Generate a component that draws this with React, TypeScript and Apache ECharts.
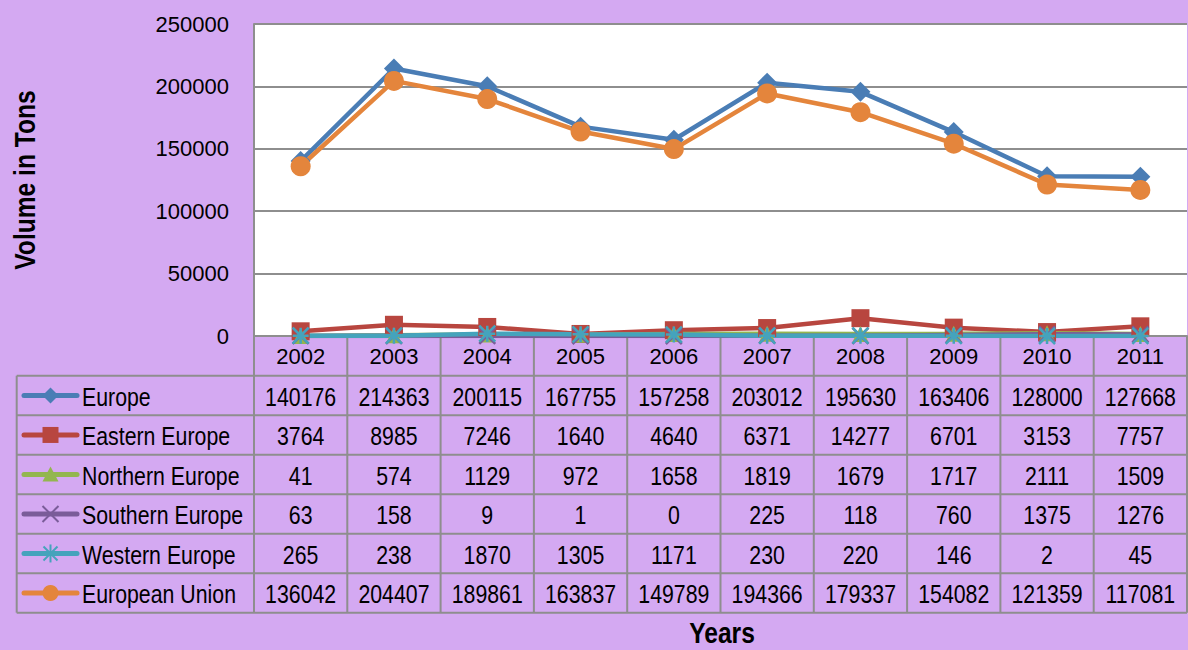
import React, { useEffect, useRef } from "react";
import * as echarts from "echarts";

const years = ["2002", "2003", "2004", "2005", "2006", "2007", "2008", "2009", "2010", "2011"];
const europe = [140176, 214363, 200115, 167755, 157258, 203012, 195630, 163406, 128000, 127668];
const easternEurope = [3764, 8985, 7246, 1640, 4640, 6371, 14277, 6701, 3153, 7757];
const northernEurope = [41, 574, 1129, 972, 1658, 1819, 1679, 1717, 2111, 1509];
const southernEurope = [63, 158, 9, 1, 0, 225, 118, 760, 1375, 1276];
const westernEurope = [265, 238, 1870, 1305, 1171, 230, 220, 146, 2, 45];
const europeanUnion = [136042, 204407, 189861, 163837, 149789, 194366, 179337, 154082, 121359, 117081];

const yMin = 0;
const yMax = 250000;
const yStep = 50000;

const W = 1188;
const H = 650;
const FONT = "'Liberation Sans', Arial, sans-serif";
const NARROW = 0.82;
const BG = "#D4A9F2";
const GRID_LINE = "#8E8E8E";

const plotLeft = 254;
const plotRight = 1187;
const plotTop = 24;
const plotBottom = 336;
const tableLeft = 16.7;
const tableTop = 375.7;
const rowH = 39.5;

const X_PATH = "path://M0,0L10,10M10,0L0,10";
const STAR_PATH = "path://M5,0L5,10M0,0L10,10M10,0L0,10M0,5L10,5";

const seriesDefs = [
  { name: "Europe", data: europe, color: "#4A7DB5", symbol: "diamond", size: 20, key: "diamond" },
  { name: "Eastern Europe", data: easternEurope, color: "#B8463F", symbol: "rect", size: 18, key: "rect" },
  { name: "Northern Europe", data: northernEurope, color: "#93B64F", symbol: "triangle", size: 16, key: "triangle" },
  { name: "Southern Europe", data: southernEurope, color: "#7A5C99", symbol: X_PATH, size: 16, key: "x" },
  { name: "Western Europe", data: westernEurope, color: "#45A3BC", symbol: STAR_PATH, size: 16, key: "star" },
  { name: "European Union", data: europeanUnion, color: "#E4853C", symbol: "circle", size: 20, key: "circle" },
];

function narrowText(text: string, x: number, y: number, align: string, size: number, bold = false, rotation = 0): any {
  return {
    type: "text",
    x,
    y,
    rotation,
    scaleX: NARROW,
    silent: true,
    style: {
      text,
      x: 0,
      y: 0,
      fill: "#000",
      fontSize: size,
      fontWeight: bold ? "bold" : "normal",
      fontFamily: FONT,
      align,
      verticalAlign: "middle",
    },
  };
}

function keyMarker(key: string, cx: number, cy: number, color: string): any[] {
  const s = { fill: color };
  const ls = { stroke: color, lineWidth: 2 };
  switch (key) {
    case "diamond":
      return [{ type: "polygon", shape: { points: [[cx, cy - 8], [cx + 8, cy], [cx, cy + 8], [cx - 8, cy]] }, style: s }];
    case "rect":
      return [{ type: "rect", shape: { x: cx - 8, y: cy - 8, width: 16, height: 16 }, style: s }];
    case "triangle":
      return [{ type: "polygon", shape: { points: [[cx, cy - 8], [cx + 8, cy + 7], [cx - 8, cy + 7]] }, style: s }];
    case "x":
      return [
        { type: "line", shape: { x1: cx - 8, y1: cy - 8, x2: cx + 8, y2: cy + 8 }, style: ls },
        { type: "line", shape: { x1: cx + 8, y1: cy - 8, x2: cx - 8, y2: cy + 8 }, style: ls },
      ];
    case "star":
      return [
        { type: "line", shape: { x1: cx, y1: cy - 9, x2: cx, y2: cy + 9 }, style: ls },
        { type: "line", shape: { x1: cx - 7, y1: cy - 7, x2: cx + 7, y2: cy + 7 }, style: ls },
        { type: "line", shape: { x1: cx + 7, y1: cy - 7, x2: cx - 7, y2: cy + 7 }, style: ls },
      ];
    default:
      return [{ type: "circle", shape: { cx, cy, r: 8 }, style: s }];
  }
}

function buildTable(): any[] {
  const els: any[] = [];
  const colW = (plotRight - plotLeft) / years.length;
  const tableBottom = tableTop + rowH * seriesDefs.length;
  const line = (x1: number, y1: number, x2: number, y2: number) => ({
    type: "line",
    silent: true,
    shape: { x1, y1, x2, y2 },
    style: { stroke: GRID_LINE, lineWidth: 2 },
  });
  for (let i = 0; i <= seriesDefs.length; i++) {
    const y = tableTop + i * rowH;
    els.push(line(tableLeft, y, plotRight, y));
  }
  els.push(line(tableLeft, tableTop, tableLeft, tableBottom));
  for (let c = 0; c <= years.length; c++) {
    const x = plotLeft + c * colW;
    els.push(line(x, plotBottom, x, tableBottom));
  }
  seriesDefs.forEach((sd, i) => {
    const cy = tableTop + i * rowH + rowH / 2;
    els.push({
      type: "line",
      shape: { x1: 24, y1: cy, x2: 77, y2: cy },
      style: { stroke: sd.color, lineWidth: 5, lineCap: "round" },
    });
    els.push(...keyMarker(sd.key, 50.5, cy, sd.color));
    els.push(narrowText(sd.name, 82, cy + 1, "left", 26));
    sd.data.forEach((v, c) => {
      els.push(narrowText(String(v), plotLeft + c * colW + colW / 2, cy + 1, "center", 26));
    });
  });
  els.push(narrowText("Years", 722, 633, "center", 30, true));
  els.push(narrowText("Volume in Tons", 25, 180, "center", 30, true, Math.PI / 2));
  return els;
}

export default function App() {
  const ref = useRef<HTMLDivElement>(null);
  useEffect(() => {
    if (!ref.current) return;
    const chart = echarts.init(ref.current, undefined, { renderer: "svg" });
    chart.setOption({
      animation: false,
      backgroundColor: BG,
      grid: {
        left: plotLeft,
        top: plotTop,
        width: plotRight - plotLeft,
        height: plotBottom - plotTop,
        show: true,
        backgroundColor: "#FFFFFF",
        borderWidth: 0,
        containLabel: false,
        outerBoundsMode: "none",
      },
      xAxis: {
        type: "category",
        data: years,
        boundaryGap: true,
        axisLine: { show: true, lineStyle: { color: GRID_LINE, width: 2 } },
        axisTick: { show: false },
        axisLabel: { color: "#000", fontSize: 22, fontFamily: FONT, margin: 9 },
        splitLine: { show: false },
      },
      yAxis: {
        type: "value",
        min: yMin,
        max: yMax,
        interval: yStep,
        axisLine: { show: true, lineStyle: { color: GRID_LINE, width: 2 } },
        axisTick: { show: false },
        axisLabel: { color: "#000", fontSize: 22, fontFamily: FONT, margin: 25, formatter: (v: number) => String(v) },
        splitLine: { show: true, lineStyle: { color: GRID_LINE, width: 2 } },
      },
      series: seriesDefs.map((sd) => ({
        name: sd.name,
        type: "line",
        data: sd.data,
        symbol: sd.symbol,
        symbolSize: sd.size,
        showSymbol: true,
        lineStyle: { color: sd.color, width: 4.5 },
        itemStyle: {
          color: sd.color,
          borderColor: sd.color,
          borderWidth: sd.key === "x" || sd.key === "star" ? 2.5 : 0,
        },
      })),
      graphic: buildTable(),
    });
    return () => chart.dispose();
  }, []);
  return <div ref={ref} style={{ position: "fixed", left: 0, top: 0, width: W, height: H }} />;
}
